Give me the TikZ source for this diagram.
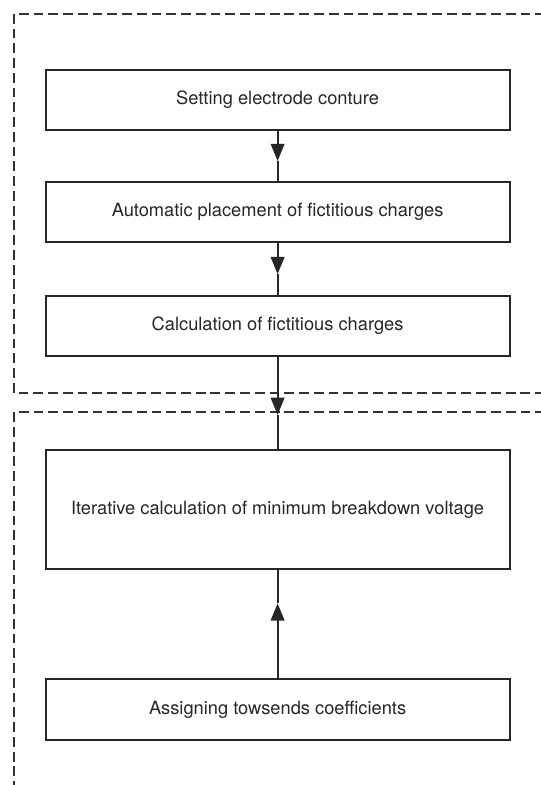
\documentclass[tikz,border=0pt]{standalone}
\usepackage{fontspec}
\setmainfont{TeX Gyre Heros}
\usetikzlibrary{positioning,arrows.meta}

\tikzstyle{stepNode} = [rectangle, minimum width=11.6cm, minimum height=1.5cm, text centered, draw=black!85, line width=1.4pt, text=black!85, font=\fontsize{13}{15}\selectfont]
\tikzstyle{arrow} = [line width=1.4pt, draw=black!85, -{Triangle[length=4.3mm,width=3.4mm]}]
\tikzstyle{link} = [line width=1.4pt, draw=black!85]
\tikzstyle{frame} = [line width=1.3pt, draw=black!80, dash pattern=on 7pt off 3.5pt]

\begin{document}
\begin{tikzpicture}[node distance=1.25cm]
    \useasboundingbox (0,0) rectangle (13.5,-19.625);

    % dashed frames
    \draw [frame] (14,-0.34) -- (0.35,-0.34) -- (0.35,-9.825) -- (14,-9.825);
    \draw [frame] (14,-10.3) -- (0.35,-10.3) -- (0.35,-20);

    \node (contour)[stepNode] at (6.94,-2.5) {Setting electrode conture};
    \node (placement)[stepNode, below=1.25cm of contour] {Automatic placement of fictitious charges};
    \node (charges)[stepNode, below=1.3cm of placement] {Calculation of fictitious charges};
    \node (breakdown)[stepNode, below=2.3cm of charges, minimum height=2.975cm] {Iterative calculation of minimum breakdown voltage};
    \node (townsend)[stepNode, below=2.7cm of breakdown, minimum height=1.53cm] {Assigning towsends coefficients};

    % arrow tips sit part way along each link
    \path (contour.south) -- (placement.north) coordinate[pos=0.6] (tipA);
    \path (placement.south) -- (charges.north) coordinate[pos=0.6] (tipB);
    \path (charges.south) -- (breakdown.north) coordinate[pos=0.63] (tipC);
    \path (townsend.north) -- (breakdown.south) coordinate[pos=0.69] (tipD);

    \draw [arrow] (contour) -- (tipA);
    \draw [link] (tipA) -- (placement);
    \draw [arrow] (placement) -- (tipB);
    \draw [link] (tipB) -- (charges);
    \draw [arrow] (charges) -- (tipC);
    \draw [link] (tipC) -- (breakdown);
    \draw [arrow] (townsend) -- (tipD);
    \draw [link] (tipD) -- (breakdown);

\end{tikzpicture}
\end{document}
